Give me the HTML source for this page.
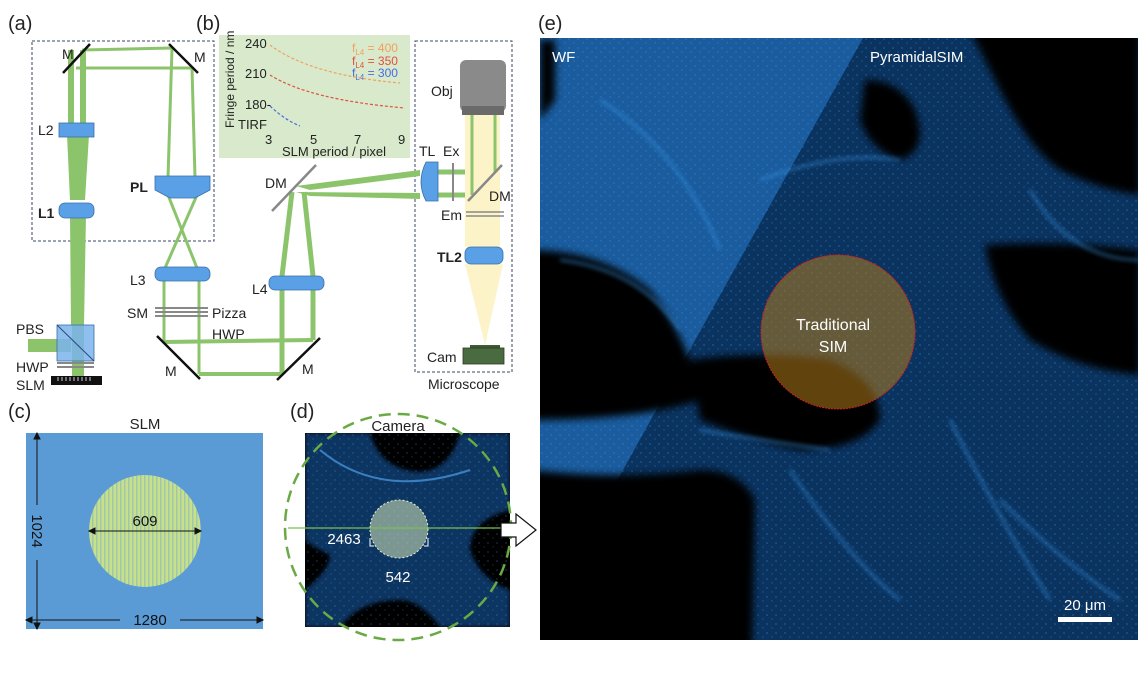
<!DOCTYPE html>
<html><head><meta charset="utf-8"><style>
html,body{margin:0;padding:0;background:#fff;}
svg{display:block;font-family:"Liberation Sans",sans-serif;}
</style></head><body>
<svg width="1138" height="675" viewBox="0 0 1138 675" xmlns="http://www.w3.org/2000/svg">
<defs>
<filter id="bl" x="-20%" y="-20%" width="140%" height="140%"><feGaussianBlur stdDeviation="4"/></filter>
<filter id="bl2"><feGaussianBlur stdDeviation="2"/></filter>
<clipPath id="ce"><rect x="540" y="38" width="598" height="602"/></clipPath>
<clipPath id="cd"><rect x="305" y="433" width="205" height="194"/></clipPath>
<pattern id="str" width="4" height="10" patternUnits="userSpaceOnUse"><rect width="4" height="10" fill="#c8e08c"/><rect width="1.5" height="10" fill="#9ec8a8"/></pattern>
<pattern id="tex" width="9" height="9" patternUnits="userSpaceOnUse"><rect width="9" height="9" fill="none"/><circle cx="2" cy="3" r="0.9" fill="#3aa0f0" opacity="0.6"/><circle cx="7" cy="7" r="0.7" fill="#5ab8ff" opacity="0.5"/></pattern>
</defs>
<rect width="1138" height="675" fill="#fff"/>

<g font-size="20" fill="#222">
<text x="8" y="30">(a)</text><text x="196" y="30">(b)</text>
<text x="8" y="418">(c)</text><text x="290" y="418">(d)</text>
<text x="538" y="30">(e)</text>
</g>

<rect x="32" y="41" width="182" height="200" fill="none" stroke="#3a4a6a" stroke-width="1" stroke-dasharray="3,2"/>
<rect x="415" y="41" width="97" height="331" fill="none" stroke="#3a4a6a" stroke-width="1" stroke-dasharray="3,2"/>

<g fill="#8cc46c" stroke="none">
<polygon points="68,50 74,50 74,125 68,125"/>
<polygon points="80,50 86,50 86,125 80,125"/>
<polygon points="67,135 89,135 85,200 70,200"/>
<polygon points="70,215 86,215 84,325 71,325"/>
<rect x="72" y="325" width="12" height="55"/>
<rect x="28" y="339" width="43" height="13"/>
</g>
<g stroke="#8cc46c" fill="none">
<line x1="82" y1="50" x2="172" y2="48" stroke-width="3"/>
<line x1="76" y1="68" x2="192" y2="68" stroke-width="3"/>
<line x1="172" y1="48" x2="168" y2="178" stroke-width="3"/>
<line x1="192" y1="68" x2="195" y2="178" stroke-width="3"/>
<line x1="168" y1="195" x2="197" y2="268" stroke-width="3"/>
<line x1="197" y1="195" x2="165" y2="268" stroke-width="3"/>
<line x1="164" y1="281" x2="164" y2="342" stroke-width="3"/>
<line x1="199" y1="281" x2="199" y2="374" stroke-width="3"/>
<line x1="164" y1="342" x2="313" y2="340" stroke-width="4"/>
<line x1="199" y1="374" x2="282" y2="374" stroke-width="4"/>
<line x1="282" y1="374" x2="282" y2="290" stroke-width="5"/>
<line x1="313" y1="340" x2="313" y2="290" stroke-width="5"/>
<line x1="282" y1="276" x2="292" y2="192" stroke-width="5"/>
<line x1="313" y1="276" x2="304" y2="192" stroke-width="5"/>
</g>
<polygon points="296,186 420,170 420,176 310,190" fill="#8cc46c"/>
<polygon points="296,192 420,193 420,199 310,196" fill="#8cc46c"/>
<line x1="436" y1="172" x2="490" y2="172" stroke="#8cc46c" stroke-width="5"/>
<line x1="436" y1="195" x2="476" y2="195" stroke="#8cc46c" stroke-width="5"/>

<polygon points="465,115 500,115 500,247 465,247" fill="#fdf3c8"/>
<polygon points="465,264 503,264 485,345" fill="#fdf3c8"/>
<line x1="472" y1="115" x2="472" y2="195" stroke="#8cc46c" stroke-width="3"/>
<line x1="495" y1="115" x2="495" y2="172" stroke="#8cc46c" stroke-width="3"/>

<g stroke="#111" stroke-width="2.5">
<line x1="63" y1="73" x2="90" y2="44"/>
<line x1="169" y1="44" x2="198" y2="73"/>
<line x1="157" y1="336" x2="200" y2="379"/>
<line x1="277" y1="380" x2="320" y2="338"/>
</g>
<g stroke="#888" stroke-width="2.5">
<line x1="272" y1="211" x2="316" y2="165"/>
<line x1="468" y1="201" x2="502" y2="165"/>
<line x1="453" y1="163" x2="453" y2="201" stroke-width="2"/>
<line x1="466" y1="212" x2="504" y2="212" stroke-width="1.5"/>
<line x1="466" y1="216" x2="504" y2="216" stroke-width="1.5"/>
<line x1="155" y1="308" x2="208" y2="308" stroke-width="2"/>
<line x1="155" y1="312" x2="208" y2="312" stroke-width="2"/>
<line x1="155" y1="316" x2="208" y2="316" stroke-width="2"/>
<line x1="57" y1="363" x2="94" y2="363" stroke-width="2"/>
<line x1="57" y1="367" x2="94" y2="367" stroke-width="2"/>
</g>

<g fill="#5aa0e6" stroke="#3a6ea8" stroke-width="0.8">
<rect x="59" y="123" width="35" height="14"/>
<rect x="59" y="203" width="35" height="15" rx="6"/>
<path d="M155,176 H210 V190 L195,198 H170 L155,190 Z"/>
<rect x="155" y="267" width="55" height="14" rx="6"/>
<rect x="269" y="276" width="55" height="14" rx="6"/>
<path d="M426,162 H438 V201 H426 Q416,182 426,162 Z"/>
<rect x="465" y="247" width="38" height="17" rx="6"/>
<rect x="57" y="325" width="37" height="36" fill="#7ab4ec" fill-opacity="0.85"/>
</g>
<line x1="57" y1="325" x2="94" y2="361" stroke="#2a4a7a" stroke-width="1"/>
<rect x="51" y="376" width="51" height="9" fill="#111"/>
<g stroke="#fff" stroke-width="0.8"><line x1="58" y1="377" x2="58" y2="381"/><line x1="62" y1="377" x2="62" y2="381"/><line x1="66" y1="377" x2="66" y2="381"/><line x1="70" y1="377" x2="70" y2="381"/><line x1="74" y1="377" x2="74" y2="381"/><line x1="78" y1="377" x2="78" y2="381"/><line x1="82" y1="377" x2="82" y2="381"/><line x1="86" y1="377" x2="86" y2="381"/><line x1="90" y1="377" x2="90" y2="381"/></g>

<rect x="460" y="60" width="46" height="52" rx="6" fill="#8a8a8a"/>
<rect x="462" y="106" width="42" height="9" fill="#6a6a6a"/>
<rect x="470" y="345" width="30" height="4" fill="#3e5a36"/>
<rect x="463" y="348" width="41" height="16" fill="#4a6a40" stroke="#2a3a24" stroke-width="0.8"/>

<g font-size="14" fill="#222">
<text x="62" y="59">M</text><text x="194" y="62">M</text>
<text x="38" y="135">L2</text><text x="38" y="218" font-weight="bold">L1</text>
<text x="130" y="192" font-weight="bold">PL</text><text x="130" y="285">L3</text>
<text x="127" y="318">SM</text><text x="212" y="318">Pizza</text><text x="212" y="339">HWP</text>
<text x="252" y="294">L4</text><text x="265" y="188">DM</text>
<text x="165" y="376">M</text><text x="302" y="374">M</text>
<text x="16" y="334">PBS</text><text x="16" y="372">HWP</text><text x="16" y="390">SLM</text>
<text x="431" y="96">Obj</text><text x="419" y="156">TL</text><text x="443" y="156">Ex</text>
<text x="489" y="201">DM</text><text x="441" y="220">Em</text>
<text x="437" y="262" font-weight="bold">TL2</text><text x="427" y="362">Cam</text>
<text x="428" y="389">Microscope</text>
</g>

<rect x="219" y="35" width="191" height="123" fill="#d8eacb"/>
<g font-size="13" fill="#222">
<text x="245" y="48">240</text><text x="245" y="78">210</text><text x="245" y="109">180-</text>
<text x="238" y="129">TIRF</text>
<text x="265" y="144">3</text><text x="310" y="144">5</text><text x="354" y="144">7</text><text x="398" y="144">9</text>
<text x="282" y="156">SLM period / pixel</text>
<text transform="translate(234,128) rotate(-90)" font-size="12">Fringe period / nm</text>
</g>
<g font-size="12">
<text x="352" y="52" fill="#f0a060">f<tspan font-size="8" dy="3">L4</tspan><tspan dy="-3"> = 400</tspan></text>
<text x="352" y="65" fill="#e05040">f<tspan font-size="8" dy="3">L4</tspan><tspan dy="-3"> = 350</tspan></text>
<text x="352" y="77" fill="#4a6ae0">f<tspan font-size="8" dy="3">L4</tspan><tspan dy="-3"> = 300</tspan></text>
</g>
<g fill="none" stroke-dasharray="3,2" stroke-width="1.2">
<path d="M270,45 Q310,75 400,83" stroke="#f0a060"/>
<path d="M270,75 Q310,100 405,108" stroke="#e05040"/>
<path d="M270,106 Q285,120 300,126" stroke="#4a6ae0"/>
</g>

<text x="145" y="429" font-size="15" text-anchor="middle" fill="#222">SLM</text>
<rect x="26" y="433" width="237" height="196" fill="#5b9bd5"/>
<circle cx="145" cy="531" r="56" fill="url(#str)"/>
<g stroke="#111" stroke-width="1" fill="#111">
<line x1="91" y1="531" x2="199" y2="531"/>
<path d="M89,531 l6,-3 v6z M201,531 l-6,-3 v6z"/>
<line x1="28" y1="620" x2="120" y2="620"/><line x1="180" y1="620" x2="261" y2="620"/>
<path d="M26,620 l6,-3 v6z M263,620 l-6,-3 v6z"/>
<line x1="37" y1="435" x2="37" y2="505"/><line x1="37" y1="560" x2="37" y2="627"/>
<path d="M37,433 l-3,6 h6z M37,629 l-3,-6 h6z"/>
</g>
<g font-size="15" fill="#111" text-anchor="middle">
<text x="145" y="526">609</text><text x="150" y="625">1280</text>
<text transform="translate(32,531) rotate(90)">1024</text>
</g>

<rect x="305" y="433" width="205" height="194" fill="#000"/>
<g clip-path="url(#cd)">
<path d="M305,433 H370 Q380,470 420,472 Q450,470 460,433 H510 V510 Q470,520 470,550 Q480,580 510,590 V627 H440 Q420,600 400,600 Q360,600 340,627 H305 V590 Q330,570 330,555 Q310,545 305,540 Z" fill="#0e3562" filter="url(#bl2)"/>
<rect x="305" y="433" width="205" height="194" fill="url(#tex)" opacity="0.5"/>
<path d="M320,450 Q380,500 470,470" stroke="#3a80c0" stroke-width="2" fill="none"/>
</g>
<circle cx="399" cy="529" r="29" fill="#d8e8b8" fill-opacity="0.55" stroke="#e8f0d0" stroke-dasharray="2,2"/>
<circle cx="398" cy="527" r="113" fill="none" stroke="#6aaa44" stroke-width="2.5" stroke-dasharray="12,7"/>
<line x1="288" y1="528" x2="508" y2="528" stroke="#7ac050" stroke-width="1.2"/>
<text x="398" y="431" font-size="15" text-anchor="middle" fill="#222">Camera</text>
<path d="M370,538 v8 h4 M428,538 v8 h-4" stroke="#fff" fill="none"/>
<g font-size="15" fill="#fff" text-anchor="middle">
<text x="344" y="544">2463</text><text x="398" y="582">542</text>
</g>
<path d="M501,523 h15 v-9 l20,16 l-20,16 v-9 h-15 z" fill="#fff" stroke="#111" stroke-width="1.2"/>

<g clip-path="url(#ce)">
<rect x="540" y="38" width="598" height="602" fill="#0a3360"/>
<polygon points="540,38 863,38 538,623 540,640" fill="#1a5c9e"/>
<rect x="540" y="38" width="598" height="602" fill="url(#tex)" opacity="0.6"/>
<g fill="#000" filter="url(#bl)">
<path d="M530,250 Q600,250 650,290 Q690,340 700,400 Q640,420 530,420 Z"/>
<path d="M530,470 Q620,480 700,470 Q740,470 755,500 L752,650 L530,650 Z"/>
<path d="M690,360 Q760,350 830,360 Q880,380 880,420 Q860,450 800,450 Q750,440 700,420 Z"/>
<path d="M865,80 Q900,80 915,110 Q930,150 900,160 Q870,150 860,120 Z"/>
<path d="M970,30 L1140,30 L1140,195 Q1100,190 1060,170 Q1030,150 1000,90 Z"/>
<path d="M985,245 Q1060,240 1140,250 L1140,375 Q1080,370 1030,340 Q995,300 985,245 Z"/>
<path d="M540,40 L555,40 L555,100 L540,120 Z"/>
</g>
<g stroke="#3c9ae8" stroke-width="2" fill="none" opacity="0.7" filter="url(#bl2)">
<path d="M560,260 Q640,270 680,330"/>
<path d="M700,430 Q760,440 830,450"/>
<path d="M1030,190 Q1070,260 1140,260"/>
<path d="M760,180 Q840,150 900,160"/>
<path d="M790,470 Q850,560 900,600"/>
<path d="M950,420 Q1000,520 1050,600"/>
<path d="M600,100 Q680,150 720,250"/>
<path d="M1000,500 Q1060,560 1120,600"/>
</g>
<circle cx="838" cy="332" r="77" fill="#b07a1a" fill-opacity="0.55" stroke="#d02020" stroke-width="1" stroke-dasharray="2,1"/>
</g>
<g font-size="15" fill="#fff">
<text x="552" y="62">WF</text><text x="870" y="62">PyramidalSIM</text>
<text x="833" y="330" text-anchor="middle" font-size="16">Traditional</text>
<text x="833" y="352" text-anchor="middle" font-size="16">SIM</text>
<text x="1085" y="610" text-anchor="middle">20 μm</text>
</g>
<rect x="1058" y="617" width="54" height="5" fill="#fff"/>
</svg>
</body></html>
